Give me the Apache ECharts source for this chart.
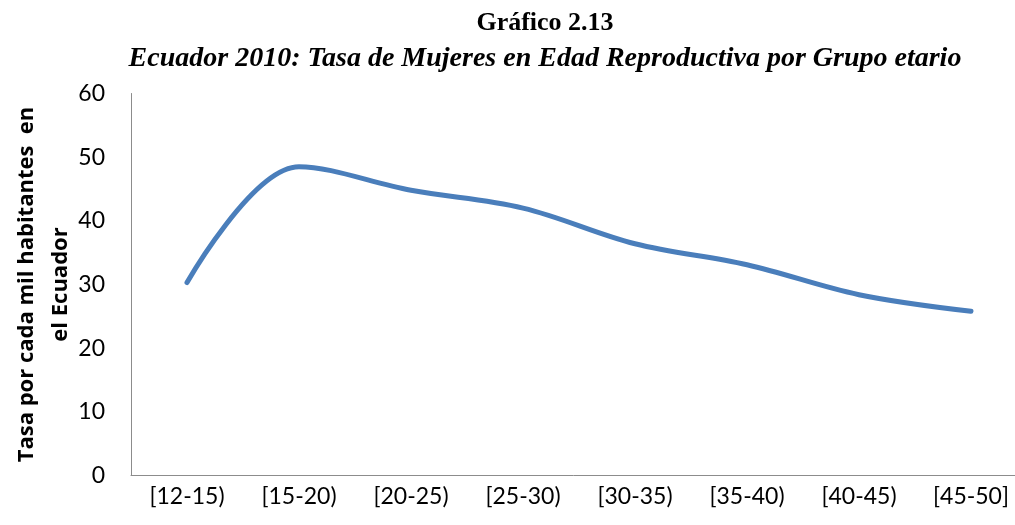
<!DOCTYPE html>
<html>
<head>
<meta charset="utf-8">
<script src="https://cdn.jsdelivr.net/npm/echarts@6/dist/echarts.min.js"></script>
<style>
  html, body { margin: 0; padding: 0; background: #fff; }
  #chart { width: 1015px; height: 525px; }
</style>
</head>
<body>
<div id="chart"></div>
<script>
const categories = ["[12-15)", "[15-20)", "[20-25)", "[25-30)", "[30-35)", "[35-40)", "[40-45)", "[45-50]"];
const tasa = [30.3, 48.5, 44.8, 42.0, 36.4, 33.1, 28.4, 25.8];
const yTicks = { min: 0, max: 60, interval: 10 };

const axisFont = "Lato, 'Open Sans', sans-serif";
const serif = "'Liberation Serif', 'DejaVu Serif', serif";

const chart = echarts.init(document.getElementById("chart"));
chart.setOption({
  animation: false,
  title: [
    {
      text: "Gráfico 2.13",
      left: 540,
      top: 5,
      textAlign: "center",
      textStyle: { fontFamily: serif, fontWeight: "bold", fontSize: 26, color: "#000" }
    },
    {
      text: "Ecuador 2010: Tasa de Mujeres en Edad Reproductiva por Grupo etario",
      left: 540,
      top: 40,
      textAlign: "center",
      textStyle: { fontFamily: serif, fontWeight: "bold", fontStyle: "italic", fontSize: 28, color: "#000" }
    }
  ],
  grid: { left: 131, top: 93.5, bottom: 49.5, width: 896, containLabel: false, outerBoundsMode: "none" },
  xAxis: {
    type: "category",
    data: categories,
    boundaryGap: true,
    axisLine: { show: true, lineStyle: { color: "#8c8c8c", width: 1 } },
    axisTick: { show: false },
    axisLabel: { color: "#000", fontFamily: axisFont, fontSize: 23, margin: 10, interval: 0 },
    splitLine: { show: false }
  },
  yAxis: {
    type: "value",
    min: yTicks.min,
    max: yTicks.max,
    interval: yTicks.interval,
    name: "Tasa por cada mil habitantes  en\nel Ecuador",
    nameLocation: "middle",
    nameRotate: 90,
    nameGap: 53,
    nameMoveOverlap: false,
    nameTextStyle: { color: "#000", fontFamily: "'Open Sans', Lato, sans-serif", fontWeight: "bold", fontSize: 22, lineHeight: 34 },
    axisLine: { show: true, lineStyle: { color: "#8c8c8c", width: 1 } },
    axisTick: { show: false },
    axisLabel: { color: "#000", fontFamily: axisFont, fontSize: 23, margin: 26 },
    splitLine: { show: false }
  },
  series: [
    {
      type: "line",
      data: tasa,
      smooth: 0.35,
      symbol: "none",
      lineStyle: { color: "#4a7ebb", width: 5, cap: "round" }
    }
  ]
});
</script>
</body>
</html>
